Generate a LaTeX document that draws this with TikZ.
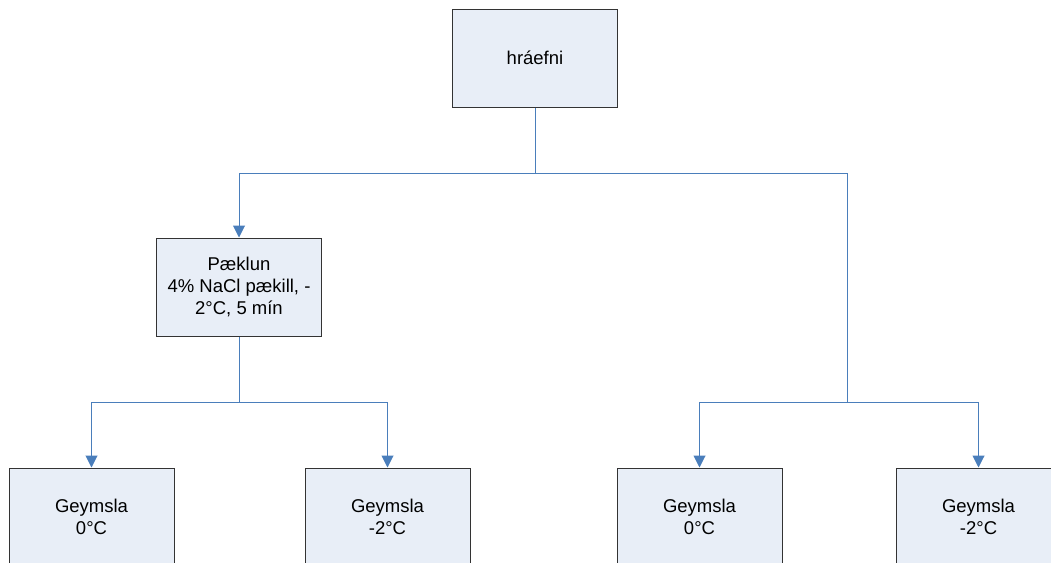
\documentclass[tikz,border=0pt]{standalone}
\usepackage{fontspec}
\setmainfont{Liberation Sans}
\usetikzlibrary{arrows.meta}
\definecolor{boxfill}{HTML}{E8EEF7}
\definecolor{linkblue}{HTML}{4A7EBB}
\tikzset{
    stepbox/.style={
        draw=black!80, fill=boxfill, line width=1pt,
        minimum width=165pt, minimum height=98pt,
        align=center, inner sep=2pt,
        font=\fontsize{18.5}{21.7}\selectfont
    },
    link/.style={
        draw=linkblue, line width=1pt,
        -{Triangle[width=12pt,length=12pt]}
    }
}

\begin{document}
\begin{tikzpicture}[x=1pt, y=-1pt]
	\useasboundingbox (0,0) rectangle (1051,562);
	\clip (0,0) rectangle (1051,562);
	
	\node[stepbox] (raw) at (535,58) {hráefni};
	\node[stepbox] (brine) at (239,287) {Pæklun\\4\% NaCl pækill, -\\2°C, 5 mín};
	
	\foreach \name/\xpos/\temp in {g1/91.5/0, g2/387.5/-2, g3/699.5/0, g4/978.5/-2} {
			\node[stepbox] (\name) at (\xpos,517) {Geymsla\\\temp{}°C};
	}
	
	\coordinate (split) at (535,173);
	\coordinate (forkL) at (239,402);
	\coordinate (forkR) at (847,402);
	
	\draw[link] (raw) -- (split) -| (brine);
	\draw[link, -] (split) -| (forkR);
	\draw[link, -] (brine) -- (forkL);
	
	\foreach \a/\b in {forkL/g1, forkL/g2, forkR/g3, forkR/g4} {
			\draw[link] (\a) -| (\b);
	}
	
\end{tikzpicture}
\end{document}
